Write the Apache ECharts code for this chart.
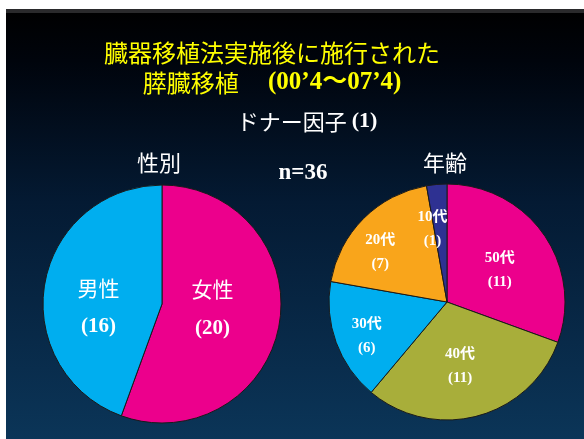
<!DOCTYPE html>
<html>
<head>
<meta charset="utf-8">
<script src="https://cdn.jsdelivr.net/npm/echarts@6/dist/echarts.min.js"></script>
<style>
  html, body { margin: 0; padding: 0; background: #ffffff; }
  #chart { width: 584px; height: 439px; }
</style>
</head>
<body>
<div id="chart"></div>
<script>
// Donor factors: sex and age breakdown
const sexNames = ['女性', '男性'];
const sexValues = [20, 16];
const ageNames = ['50代', '40代', '30代', '20代', '10代'];
const ageValues = [11, 11, 6, 7, 1];
const totalN = 36;

const sexColors = ['#ec008c', '#00aeef'];
const ageColors = ['#ec008c', '#a8ae3a', '#00aeef', '#f9a51b', '#2e3192'];

// label nudges (px) away from the default mid-radius spot
const sexLabelShift = [[-11, -6], [-2, 14]];
const ageLabelShift = [[2, 4], [-3, 4], [-22, 13], [-23, -6], [-9, -11]];

const SERIF = "'Liberation Serif', 'Times New Roman', 'Noto Sans CJK JP', serif";
const JP = "'Noto Sans CJK JP', sans-serif";

const chart = echarts.init(document.getElementById('chart'), null, { renderer: 'canvas' });

function pieData(names, values, colors) {
  return names.map((n, i) => ({ name: n, value: values[i], itemStyle: { color: colors[i] } }));
}

chart.setOption({
  animation: false,
  backgroundColor: '#ffffff',
  graphic: [
    {
      type: 'rect', z: -10, silent: true,
      shape: { x: 6, y: 9, width: 578, height: 430 },
      style: {
        fill: new echarts.graphic.LinearGradient(0, 0, 0, 1, [
          { offset: 0, color: '#000000' },
          { offset: 0.12, color: '#00040c' },
          { offset: 0.45, color: '#041a33' },
          { offset: 1, color: '#0b3558' }
        ])
      }
    },
    {
      type: 'rect', z: -9, silent: true,
      shape: { x: 6, y: 9, width: 578, height: 4 },
      style: { fill: '#2a2a2c' }
    },
    {
      type: 'text', silent: true,
      x: 272, y: 38,
      style: {
        text: '{a|臓器移植法実施後に施行された}\n{a|膵臓移植　 }{b|(00’4～07’4)}',
        align: 'center',
        rich: {
          a: { fontFamily: JP, fontSize: 24, fill: '#ffff00', lineHeight: 30 },
          b: { fontFamily: SERIF, fontSize: 25, fontWeight: 'bold', fill: '#ffff00', lineHeight: 30 }
        }
      }
    },
    {
      type: 'text', silent: true,
      x: 307, y: 108,
      style: {
        text: '{a|ドナー因子 }{b|(1)}',
        align: 'center',
        rich: {
          a: { fontFamily: JP, fontSize: 22, fill: '#ffffff', lineHeight: 27 },
          b: { fontFamily: SERIF, fontSize: 22, fontWeight: 'bold', fill: '#ffffff', lineHeight: 27 }
        }
      }
    },
    {
      type: 'text', silent: true,
      x: 303, y: 162,
      style: {
        text: 'n=' + totalN,
        align: 'center',
        fontFamily: SERIF, fontSize: 23, fontWeight: 'bold', fill: '#ffffff'
      }
    },
    {
      type: 'text', silent: true,
      x: 159, y: 152,
      style: { text: '性別', align: 'center', fontFamily: JP, fontSize: 22, fill: '#ffffff' }
    },
    {
      type: 'text', silent: true,
      x: 445, y: 152,
      style: { text: '年齢', align: 'center', fontFamily: JP, fontSize: 22, fill: '#ffffff' }
    }
  ],
  series: [
    {
      type: 'pie',
      center: [162, 304],
      radius: 119,
      startAngle: 90,
      clockwise: true,
      avoidLabelOverlap: false,
      silent: true,
      itemStyle: { borderColor: '#1a1a1a', borderWidth: 1 },
      label: {
        show: true,
        position: 'inside',
        formatter: p => '{t|' + p.name + '}\n{v|(' + p.value + ')}',
        rich: {
          t: { fontFamily: JP, fontSize: 21, color: '#ffffff', lineHeight: 39, align: 'center' },
          v: { fontFamily: SERIF, fontSize: 21, fontWeight: 'bold', color: '#ffffff', lineHeight: 39, align: 'center' }
        }
      },
      labelLine: { show: false },
      labelLayout: p => ({ dx: sexLabelShift[p.dataIndex][0], dy: sexLabelShift[p.dataIndex][1] }),
      data: pieData(sexNames, sexValues, sexColors)
    },
    {
      type: 'pie',
      center: [447, 302],
      radius: 118,
      startAngle: 90,
      clockwise: true,
      avoidLabelOverlap: false,
      silent: true,
      itemStyle: { borderColor: '#1a1a1a', borderWidth: 1 },
      label: {
        show: true,
        position: 'inside',
        formatter: p => '{t|' + p.name + '}\n{v|(' + p.value + ')}',
        rich: {
          t: { fontFamily: SERIF, fontSize: 15, fontWeight: 'bold', color: '#ffffff', lineHeight: 24, align: 'center' },
          v: { fontFamily: SERIF, fontSize: 15, fontWeight: 'bold', color: '#ffffff', lineHeight: 24, align: 'center' }
        }
      },
      labelLine: { show: false },
      labelLayout: p => ({ dx: ageLabelShift[p.dataIndex][0], dy: ageLabelShift[p.dataIndex][1] }),
      data: pieData(ageNames, ageValues, ageColors)
    }
  ]
});
</script>
</body>
</html>
